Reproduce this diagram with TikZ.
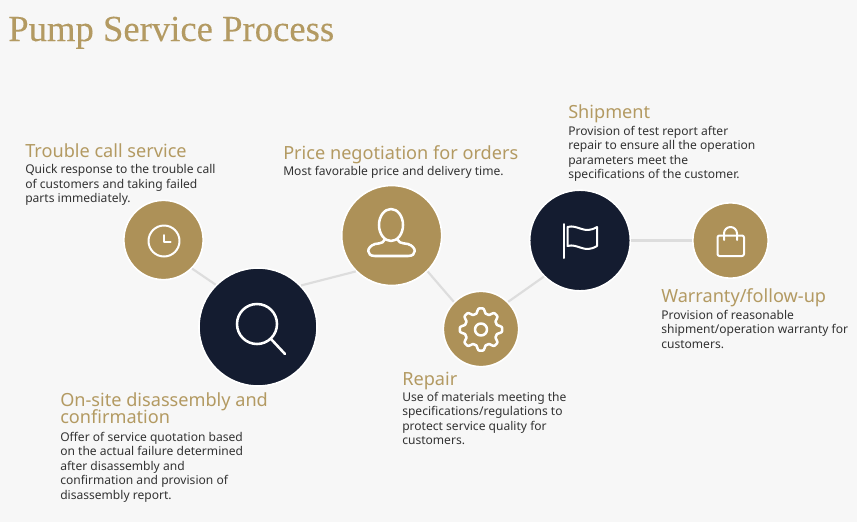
\documentclass[tikz,border=0pt]{standalone}
\usepackage{fontspec}
\setmainfont{Noto Sans}
\newfontfamily\titlefont[FakeBold=0.25]{Liberation Serif}
\usepackage{tikz}
\usetikzlibrary{positioning, calc}
\definecolor{goldc}{HTML}{AD9158}
\definecolor{navyc}{HTML}{141C30}
\definecolor{headc}{HTML}{B39A62}
\definecolor{bodyc}{HTML}{333333}
\definecolor{linkc}{HTML}{DDDDDD}
\definecolor{pagec}{HTML}{F7F7F7}
\tikzset{
  stepnode/.style = {circle, inner sep=0pt, draw=white, line width=1.2pt},
  step_g/.style = {stepnode, fill=goldc},
  step_n/.style = {stepnode, fill=navyc},
  link/.style = {draw=linkc, line width=1.6pt},
  icon/.style = {draw=white, line width=1.5pt, line cap=round, line join=round},
  titletext/.style = {anchor=base west, inner sep=0pt, text=headc, font=\titlefont\fontsize{27.5}{30}\selectfont},
  headtext/.style = {anchor=base west, inner sep=0pt, align=left, text=headc, font=\fontsize{13.6}{12.75}\selectfont},
  bodytext/.style = {anchor=north west, inner sep=0pt, align=left, text=bodyc, font=\fontsize{9.05}{10.8}\selectfont}
}
\begin{document}
\begin{tikzpicture}[x=0.75pt,y=-0.75pt]
  \fill [pagec] (0,0) rectangle (857,522);
  \useasboundingbox (0,0) rectangle (857,522);
  \node [step_g, minimum size=59.5pt] (clock) at (163.5,240) {};
  \node [step_n, minimum size=88.5pt] (search) at (258,327) {};
  \node [step_g, minimum size=75pt] (person) at (391.7,235.5) {};
  \node [step_g, minimum size=56.5pt] (gear) at (481,329) {};
  \node [step_n, minimum size=75.5pt] (flag) at (580,240.5) {};
  \node [step_g, minimum size=56.5pt] (bag) at (730.5,240.5) {};
  \draw [link] (clock.-45) -- (search.135);
  \draw [link] (search.44) -- (person.225);
  \draw [link] (person.-45) -- (gear.135);
  \draw [link] (gear.45) -- (flag.225);
  \draw [link] (flag) -- (bag);

  \draw [icon] (164,241) circle (15.5);
  \draw [icon] (164.3,235) -- (164.3,242.3) -- (170.7,242.3);

  \draw [icon, line width=1.9pt] (257,324) circle (20);
  \draw [icon, line width=1.9pt] (271,339) -- (285,354);

  \draw [icon, line width=1.9pt] (391,225) ellipse (12 and 16);
  \draw [icon, line width=1.9pt] (385,239) .. controls (384,242) and (383,243) .. (375,244)
    .. controls (366,247) and (366,256) .. (375,256) -- (408,256)
    .. controls (417,256) and (417,247) .. (408,244)
    .. controls (400,243) and (398,242) .. (397,239);

  \draw [icon, line width=1.9pt, smooth cycle] plot [domain=0:356.25, samples=96]
    ({481+(18.8+2.8*(cos(8*\x)-0.18*cos(24*\x)))*cos(\x)}, {329.5+(18.8+2.8*(cos(8*\x)-0.18*cos(24*\x)))*sin(\x)});
  \draw [icon, line width=1.9pt] (gear) ++(0,0.5) circle (6);

  \draw [icon] (564,224) -- (564,258);
  \draw [icon] (567.5,227) .. controls (578,224) and (584,235) .. (597,227)
    -- (597,246) .. controls (584,254) and (578,243) .. (567.5,246) -- cycle;

  \draw [icon, rounded corners=1.5pt] (717.5,235.5) rectangle (744,256);
  \draw [icon] (724,240) -- (724,233.5) arc (180:360:6.5) -- (737,240);

  \node [titletext] (title) at (8,41) {Pump Service Process};

  \node [headtext] (troublehead) at (25,157) {Trouble call service};
  \node [bodytext] (troublebody) at (25,164.5) {Quick response to the trouble call\\of customers and taking failed\\parts immediately.};

  \node [headtext] (sitehead) at (60,423) {On-site disassembly and\\[-2.3pt]confirmation};
  \node [bodytext] (sitebody) at (60,432) {Offer of service quotation based\\on the actual failure determined\\after disassembly and\\confirmation and provision of\\disassembly report.};

  \node [headtext] (pricehead) at (283,159) {Price negotiation for orders};
  \node [bodytext] (pricebody) at (283,166) {Most favorable price and delivery time.};

  \node [headtext] (repairhead) at (402,385) {Repair};
  \node [bodytext] (repairbody) at (402,392) {Use of materials meeting the\\specifications/regulations to\\protect service quality for\\customers.};

  \node [headtext] (shiphead) at (568,118) {Shipment};
  \node [bodytext] (shipbody) at (568,126) {Provision of test report after\\repair to ensure all the operation\\parameters meet the\\specifications of the customer.};

  \node [headtext] (warrantyhead) at (661,302) {Warranty/follow-up};
  \node [bodytext] (warrantybody) at (661,310) {Provision of reasonable\\shipment/operation warranty for\\customers.};
\end{tikzpicture}
\end{document}
